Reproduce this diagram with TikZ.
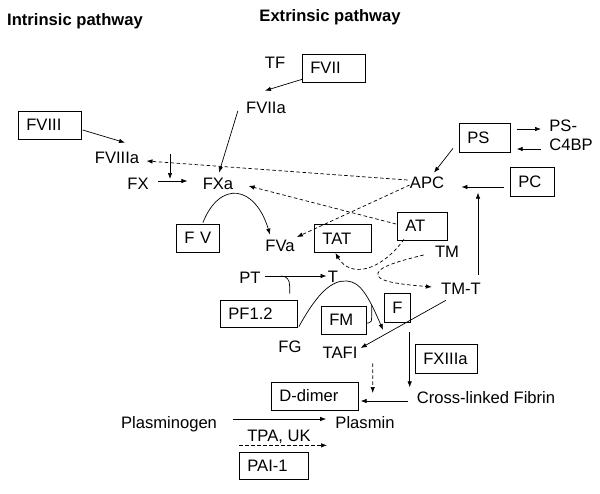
\documentclass[tikz,border=0pt]{standalone}
\usepackage{fontspec}
\setmainfont{Liberation Sans}
\usepackage{tikz}
\usetikzlibrary{arrows.meta, calc}

\begin{document}
\begin{tikzpicture}[x=1pt,y=-1pt,>={Latex[length=6pt,width=4.5pt]},
  line width=0.7pt,
  font=\fontsize{16.6}{19}\selectfont,
  lbl/.style={inner sep=1pt, text height=12pt, text depth=0pt},
  box/.style={draw, anchor=west, align=left, inner xsep=8pt, inner ysep=0pt, minimum height=28pt},
  inh/.style={dash pattern=on 3.5pt off 2.5pt}]

\useasboundingbox (0,0) rectangle (600,493);

% ------------------------------------------------------------
% Headings
% ------------------------------------------------------------
\node[lbl, font=\fontsize{16.6}{19}\selectfont\bfseries] (intr) at (75,19) {Intrinsic pathway};
\node[lbl, font=\fontsize{16.6}{19}\selectfont\bfseries] (extr) at (330,15) {Extrinsic pathway};

% ------------------------------------------------------------
% Boxed factors
% ------------------------------------------------------------
\node[box, text width=47pt] (fviii) at (18,125) {FVIII};
\node[box, text width=47pt] (fvii) at (302,68) {FVII};
\node[box, text width=35pt, minimum height=29pt] (ps) at (459,137.5) {PS};
\node[box, text width=28pt, minimum height=29pt] (pc) at (510,181.5) {PC};
\node[box, text width=27pt] (fv) at (176,238) {F V};
\node[box, text width=41pt] (tat) at (314,238.5) {TAT};
\node[box, text width=34pt] (at) at (397,226) {AT};
\node[box, text width=61pt, minimum height=27pt] (pf) at (220,313.5) {PF1.2};
\node[box, text width=29pt] (fm) at (321,320) {FM};
\node[box, text width=10pt, minimum height=29pt] (f) at (384,307.5) {F};
\node[box, text width=46pt, minimum height=29pt] (fxiii) at (415,358.5) {FXIIIa};
\node[box, text width=71pt] (ddimer) at (271,396) {D-dimer};
\node[box, text width=53pt, minimum height=27pt] (pai) at (239,465.5) {PAI-1};

% ------------------------------------------------------------
% Plain labels
% ------------------------------------------------------------
\node[lbl] (tf) at (275,62) {TF};
\node[lbl] (fviia) at (266,107) {FVIIa};
\node[lbl] (fviiia) at (117,157) {FVIIIa};
\node[lbl] (fx) at (138,183) {FX};
\node[lbl] (fxa) at (218,183) {FXa};
\node[lbl] (apc) at (427,182) {APC};
\node[inner sep=1pt, align=left, anchor=west] (psc) at (548,135.5) {PS-\\C4BP};
\node[lbl] (fva) at (280,245) {FVa};
\node[lbl] (tm) at (447,251) {TM};
\node[lbl] (tmt) at (461,288) {TM-T};
\node[lbl] (pt) at (250,277) {PT};
\node[lbl] (t) at (333,276) {T};
\node[lbl] (fg) at (290,346) {FG};
\node[lbl] (tafi) at (340,352) {TAFI};
\node[lbl] (xfib) at (486,397) {Cross-linked Fibrin};
\node[lbl] (plg) at (169,422) {Plasminogen};
\node[lbl] (pla) at (365,422) {Plasmin};
\node[lbl] (tpa) at (279,435) {TPA, UK};

\coordinate (cofac) at (170,154);
\coordinate (fibend) at (383,330);

% ------------------------------------------------------------
% Activation (solid)
% ------------------------------------------------------------
\draw[->] ([shift={(0,-3)}]fvii.south west) -- ([shift={(-1,-9)}]fviia.north);
\draw[->] ([shift={(-7,4)}]fviia.west) -- ([shift={(1,-3)}]fxa.north);
\draw[->] ([shift={(1,5)}]fviii.east) -- ([shift={(8,-7)}]fviiia.north);
\draw[->] ([shift={(8,-2)}]fx.east) -- ([shift={(-14,-2)}]fxa.west);
\draw[->] (cofac) -- ++(0,25);
\draw[->] ([shift={(5,-1)}]fv.north) .. controls (220,180) and (255,185) .. ([shift={(-10,-3)}]fva.north);
\draw[->] ([shift={(6,-8.5)}]ps.east) -- ([shift={(-7,-6.5)}]psc.west);
\draw[->] ([shift={(-7,13.5)}]psc.west) -- ([shift={(6,11.5)}]ps.east);
\draw[->] ([shift={(-6,-4)}]ps.south west) -- ([shift={(7,-2)}]apc.north);
\draw[->] ([shift={(-6,5.5)}]pc.west) -- ([shift={(16,5)}]apc.east);
\draw[->] ([shift={(17,-6)}]tmt.north) -- ++(0,-82);
\draw[->] ([shift={(3,-1)}]pt.east) -- (t.west);
\draw ([shift={(-8,-6)}]pf.north east) -- ++(0,-7) .. controls +(0,-7) and +(6,0) .. ([shift={(19,-1)}]pt.east);
\draw[->] ([shift={(-4,-12)}]fg.north east) .. controls (318,292) and (332,280) .. (347,281)
  .. controls (360,282) and (368,295) .. (fibend);
\draw ([shift={(0,3)}]fm.east) -- ++(2,0) .. controls +(3,0) and +(0,3) .. ++(3,-6) -- ++(0,-12);
\draw[->] ([shift={(6,5)}]tmt.south west) -- ([shift={(2,-4)}]tafi.east);
\draw[->] ([shift={(-1,10)}]f.south east) -- ++(0,55);
\draw[->] ([shift={(-7,4)}]xfib.west) -- ([shift={(2,5)}]ddimer.east);
\draw[->] ([shift={(15,-3)}]plg.east) -- ([shift={(-8,-3)}]pla.west);

% ------------------------------------------------------------
% Inhibition (dashed)
% ------------------------------------------------------------
\draw[->, inh] ([shift={(-1,-2)}]apc.west) -- ([shift={(6,4)}]fviiia.east);
\draw[->, inh] ([shift={(1,3)}]apc.west) -- ([shift={(1,-8)}]fva.east);
\draw[->, inh] ([shift={(-1,-2)}]at.west) -- ([shift={(14,3)}]fxa.east);
\draw[->, inh] ([shift={(7,-1)}]at.south west) .. controls (380,272) and (350,278) .. ([shift={(-7.5,0)}]tat.south);
\draw[->, inh] ([shift={(-10,4)}]tm.west) .. controls (395,262) and (375,268) .. (378,276)
  .. controls (382,283) and (410,285) .. ([shift={(-8,-1)}]tmt.west);
\draw[->, inh] ([shift={(14,4)}]tafi.south east) -- ([shift={(14,-3)}]ddimer.east);
\draw[->, inh] ([shift={(-40,3)}]tpa.south) -- ([shift={(48,3)}]tpa.south);

\end{tikzpicture}
\end{document}
